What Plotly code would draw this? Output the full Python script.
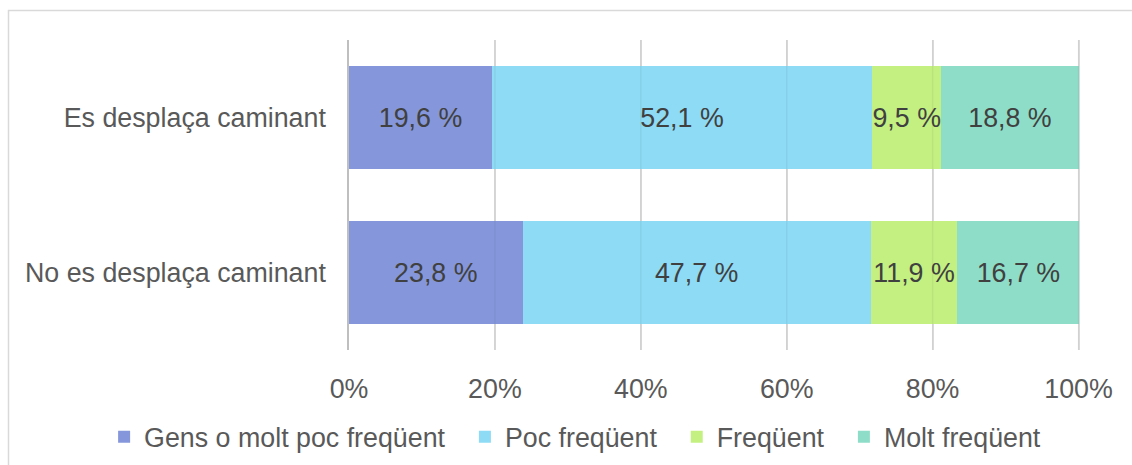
import plotly.graph_objects as go

# Survey shares by walking habit (stacked to 100 %)
categories = ["Es desplaça caminant", "No es desplaça caminant"]
series_names = ["Gens o molt poc freqüent", "Poc freqüent", "Freqüent", "Molt freqüent"]
values = {
    "Gens o molt poc freqüent": [19.6, 23.8],
    "Poc freqüent": [52.1, 47.7],
    "Freqüent": [9.5, 11.9],
    "Molt freqüent": [18.8, 16.7],
}
colors = ["#8597DA", "#8EDBF5", "#C4F082", "#8EDDC8"]
tick_vals = [0, 20, 40, 60, 80, 100]
tick_text = ["0%", "20%", "40%", "60%", "80%", "100%"]

FONT = "Liberation Sans, Arial, sans-serif"
FS = 26.8
PAD = "\u00a0\u00a0"  # extra room between legend entries

fig = go.Figure()
for i, (name, col) in enumerate(zip(series_names, colors)):
    vals = values[name]
    fig.add_trace(go.Bar(
        y=categories,
        x=vals,
        name=name + (PAD if i < len(series_names) - 1 else ""),
        orientation="h",
        marker=dict(color=col, line=dict(width=0)),
        text=[f"{v:.1f} %".replace(".", ",") for v in vals],
        textposition="inside",
        insidetextanchor="middle",
        textangle=0,
        textfont=dict(color="#404040", size=FS, family=FONT),
        constraintext="none",
        cliponaxis=False,
    ))

# light gridlines that show faintly over the bars
shapes = []
for v in tick_vals[1:]:
    shapes.append(dict(type="line", xref="x", yref="paper", x0=v, x1=v, y0=0, y1=1,
                       line=dict(color="rgba(0,0,0,0.05)", width=1.5), layer="above"))
# outer frame of the chart area
shapes.append(dict(type="rect", xref="paper", yref="paper",
                   x0=-0.4658, x1=1.3, y0=-0.6, y1=1.0952,
                   line=dict(color="#D9D9D9", width=1.5), fillcolor="rgba(0,0,0,0)", layer="below"))

fig.update_layout(
    barmode="stack",
    bargap=0.33,
    width=1132,
    height=465,
    margin=dict(l=349, r=52, t=40, b=115, autoexpand=False),
    paper_bgcolor="white",
    plot_bgcolor="white",
    font=dict(family=FONT, color="#595959", size=FS),
    showlegend=True,
    legend=dict(
        orientation="h",
        x=-0.335, xref="paper", xanchor="left",
        y=-0.28, yref="paper", yanchor="middle",
        font=dict(size=FS, color="#595959", family=FONT),
        traceorder="normal",
        itemwidth=30,
    ),
    shapes=shapes,
    xaxis=dict(
        range=[0, 100.2],
        tickvals=tick_vals,
        ticktext=tick_text,
        showgrid=True,
        gridcolor="#DDDDDD",
        gridwidth=1.5,
        zeroline=False,
        showline=False,
        ticks="",
        ticklabelstandoff=20,
        tickfont=dict(size=FS, color="#595959", family=FONT),
        fixedrange=True,
    ),
    yaxis=dict(
        categoryorder="array",
        categoryarray=categories[::-1],
        showline=True,
        linecolor="#BFBFBF",
        linewidth=1.5,
        ticks="",
        ticklabelstandoff=16,
        tickfont=dict(size=FS, color="#595959", family=FONT),
        fixedrange=True,
    ),
)

fig.write_html("out.html")
